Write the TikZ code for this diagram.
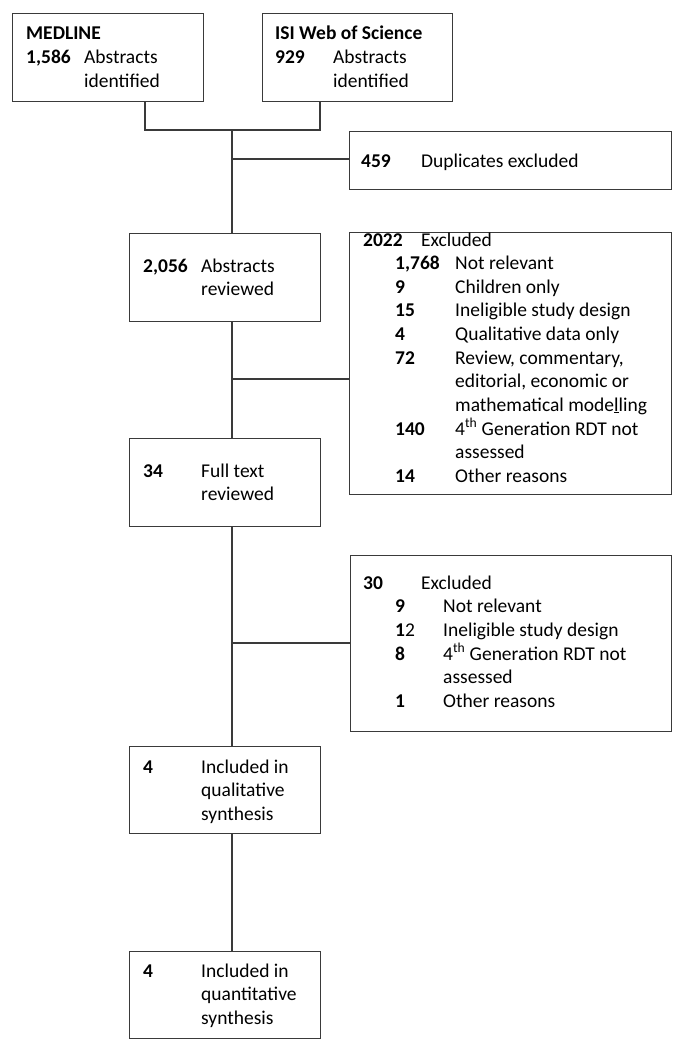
\documentclass[tikz,border=0pt]{standalone}
\usepackage{fontspec}
\setmainfont{Carlito}
\begin{document}
\newcommand{\nb}[2]{\makebox[#1][l]{\textbf{#2}}}
\begin{tikzpicture}[x=1pt,y=-1pt,
  box/.style={draw=linec, line width=1.2pt, rectangle, inner sep=0pt, anchor=north west},
  txt/.style={anchor=base west, inner sep=0pt, font=\fontsize{19.5}{23.6}\selectfont},
  conn/.style={draw=linec, line width=1.2pt}]
\definecolor{linec}{HTML}{3A3A3A}
\useasboundingbox (0,0) rectangle (687,1049);
% boxes
\node[box, minimum width=191pt, minimum height=88pt] (med) at (12,13) {};
\node[box, minimum width=190pt, minimum height=88pt] (isi) at (262,13) {};
\node[box, minimum width=322pt, minimum height=58pt] (dup) at (349,131) {};
\node[box, minimum width=191pt, minimum height=88pt] (ab) at (129,233) {};
\node[box, minimum width=322pt, minimum height=262pt] (ex1) at (349,232) {};
\node[box, minimum width=191pt, minimum height=88pt] (ft) at (129,438) {};
\node[box, minimum width=321pt, minimum height=176pt] (ex2) at (350,555) {};
\node[box, minimum width=191pt, minimum height=87pt] (ql) at (129,746) {};
\node[box, minimum width=191pt, minimum height=87pt] (qn) at (129,951) {};
% texts
\node[txt] (medt) at (26,40) {\begin{tabular}[t]{@{}l@{}}\textbf{MEDLINE}\\ \nb{58pt}{1,586}Abstracts\\ \nb{58pt}{}identified\end{tabular}};
\node[txt] (isit) at (275,40) {\begin{tabular}[t]{@{}l@{}}\textbf{ISI Web of Science}\\ \nb{58pt}{929}Abstracts\\ \nb{58pt}{}identified\end{tabular}};
\node[txt] (dupt) at (361,167) {\nb{60pt}{459}Duplicates excluded};
\node[txt] (abt) at (143,272) {\begin{tabular}[t]{@{}l@{}}\nb{58pt}{2,056}Abstracts\\ \nb{58pt}{}reviewed\end{tabular}};
\node[txt] (ex1t) at (363,246) {\begin{tabular}[t]{@{}l@{}}\nb{58pt}{2022}Excluded\\
 \hspace{32pt}\nb{60pt}{1,768}Not relevant\\
 \hspace{32pt}\nb{60pt}{9}Children only\\
 \hspace{32pt}\nb{60pt}{15}Ineligible study design\\
 \hspace{32pt}\nb{60pt}{4}Qualitative data only\\
 \hspace{32pt}\nb{60pt}{72}Review, commentary,\\
 \hspace{32pt}\nb{60pt}{}editorial, economic or\\
 \hspace{32pt}\nb{60pt}{}mathematical mode\underline{l}ling\\
 \hspace{32pt}\nb{60pt}{140}4\textsuperscript{th} Generation RDT not\\
 \hspace{32pt}\nb{60pt}{}assessed\\
 \hspace{32pt}\nb{60pt}{14}Other reasons\end{tabular}};
\node[txt] (ftt) at (143,477) {\begin{tabular}[t]{@{}l@{}}\nb{58pt}{34}Full text\\ \nb{58pt}{}reviewed\end{tabular}};
\node[txt] (ex2t) at (363,589) {\begin{tabular}[t]{@{}l@{}}\nb{58pt}{30}Excluded\\
 \hspace{32pt}\nb{48pt}{9}Not relevant\\
 \hspace{32pt}\makebox[48pt][l]{\textbf{1}2}Ineligible study design\\
 \hspace{32pt}\nb{48pt}{8}4\textsuperscript{th} Generation RDT not\\
 \hspace{32pt}\nb{48pt}{}assessed\\
 \hspace{32pt}\nb{48pt}{1}Other reasons\end{tabular}};
\node[txt] (qlt) at (143,773) {\begin{tabular}[t]{@{}l@{}}\nb{58pt}{4}Included in\\ \nb{58pt}{}qualitative\\ \nb{58pt}{}synthesis\end{tabular}};
\node[txt] (qnt) at (143,977) {\begin{tabular}[t]{@{}l@{}}\nb{58pt}{4}Included in\\ \nb{58pt}{}quantitative\\ \nb{58pt}{}synthesis\end{tabular}};
% connectors
\coordinate (mj) at (145,130);
\coordinate (ij) at (320,130);
\coordinate (j) at (232,130);
\coordinate (b1) at (232,159);
\coordinate (b2) at (232,379);
\coordinate (b3) at (232,643);
\draw[conn] (mj |- med.south) -- (mj) -- (ij) -- (ij |- isi.south);
\draw[conn] (j) -- (j |- ab.north);
\draw[conn] (j |- ab.south) -- (j |- ft.north);
\draw[conn] (j |- ft.south) -- (j |- ql.north);
\draw[conn] (j |- ql.south) -- (j |- qn.north);
\draw[conn] (b1) -- (b1 -| dup.west);
\draw[conn] (b2) -- (b2 -| ex1.west);
\draw[conn] (b3) -- (b3 -| ex2.west);
\end{tikzpicture}
\end{document}
